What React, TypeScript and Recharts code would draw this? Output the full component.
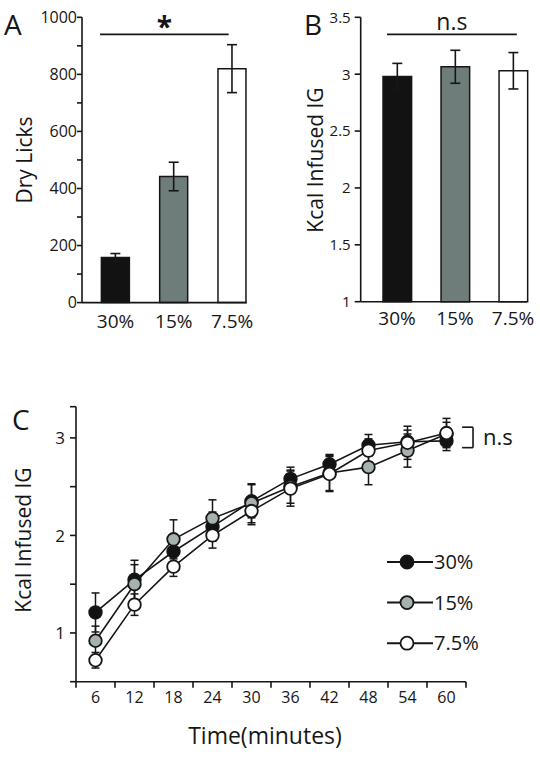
import React from "react";
import {
  BarChart,
  Bar,
  Cell,
  LineChart,
  Line,
  XAxis,
  YAxis,
  ErrorBar,
  ReferenceLine,
  Label,
  Legend,
} from "recharts";

// concentrations (shared by all panels)
const groups = ["30%", "15%", "7.5%"];
const barFills = ["#121212", "#6f7d7a", "#ffffff"];
const dotFills = ["#121212", "#a7b1ae", "#ffffff"];

// panel A: dry licks
const dryLicks = [158, 442, 820];
const dryLicksErr = [14, 50, 84];

// panel B: total kcal infused
const kcalTotal = [2.98, 3.065, 3.03];
const kcalTotalErr = [0.115, 0.145, 0.16];

// panel C: cumulative kcal over time
const minutes = [6, 12, 18, 24, 30, 36, 42, 48, 54, 60];
const kcal30 = [1.21, 1.545, 1.835, 2.09, 2.35, 2.58, 2.73, 2.925, 2.96, 2.97];
const kcal30Err = [0.2, 0.2, 0.15, 0.15, 0.17, 0.12, 0.1, 0.11, 0.12, 0.1];
const kcal15 = [0.92, 1.5, 1.96, 2.175, 2.33, 2.5, 2.64, 2.7, 2.87, 3.04];
const kcal15Err = [0.15, 0.2, 0.2, 0.19, 0.2, 0.17, 0.18, 0.18, 0.17, 0.12];
const kcal75 = [0.72, 1.29, 1.68, 2.0, 2.25, 2.48, 2.63, 2.87, 2.95, 3.05];
const kcal75Err = [0.08, 0.11, 0.1, 0.13, 0.14, 0.18, 0.18, 0.12, 0.17, 0.15];

const lickTicks = [0, 100, 200, 300, 400, 500, 600, 700, 800, 900, 1000];
const kcalBarTicks = [1, 1.5, 2, 2.5, 3, 3.5];
const kcalLineTicks = [0.5, 1, 1.5, 2, 2.5, 3, 3.32];
const timeTicks = [3, 6, 9, 12, 15, 18, 21, 24, 27, 30, 33, 36, 39, 42, 45, 48, 51, 54, 57, 60, 63];

const INK = "#161616";
const FONT = "'Open Sans', sans-serif";

const licksData = groups.map((g, i) => ({ idx: i, name: g, value: dryLicks[i], err: dryLicksErr[i] }));
const kcalData = groups.map((g, i) => ({ idx: i, name: g, value: kcalTotal[i], err: kcalTotalErr[i] }));
const timeData = minutes.map((t, i) => ({
  t,
  k30: kcal30[i],
  e30: kcal30Err[i],
  k15: kcal15[i],
  e15: kcal15Err[i],
  k75: kcal75[i],
  e75: kcal75Err[i],
}));
const lineKeys = [
  { key: "k30", err: "e30" },
  { key: "k15", err: "e15" },
  { key: "k75", err: "e75" },
];

const axisProps = { stroke: INK, strokeWidth: 1.6 };

const groupTick = (dy: number) => (p: any) => (
  <text x={p.x} y={p.y} dy={dy} textAnchor="middle" fontSize={19} fill={INK} fontFamily={FONT}>
    {groups[p.payload.value]}
  </text>
);

const valueTick = (size: number, show: (v: number) => boolean) => (p: any) => {
  const v = p.payload.value;
  if (!show(v)) return <g />;
  return (
    <text x={p.x} y={p.y} dy="0.36em" textAnchor="end" fontSize={size} fill={INK} fontFamily={FONT}>
      {v}
    </text>
  );
};

const timeTick = (p: any) => {
  const v = p.payload.value;
  if (v % 6 !== 0) return <line x1={p.x} x2={p.x} y1={p.y} y2={p.y + 6} stroke={INK} strokeWidth={1.6} />;
  return (
    <text x={p.x} y={p.y} dy={21.5} textAnchor="middle" fontSize={16} fill={INK} fontFamily={FONT}>
      {v}
    </text>
  );
};

const vTitle = (text: string, x: number, y: number) => () => (
  <text
    transform={`translate(${x},${y}) rotate(-90)`}
    textAnchor="middle"
    fontSize={21}
    fill={INK}
    fontFamily={FONT}
  >
    {text}
  </text>
);

const panelLetter = (letter: string, left: number, top: number) => (
  <div
    style={{
      position: "absolute",
      left,
      top,
      fontFamily: FONT,
      fontSize: 28,
      lineHeight: "28px",
      color: INK,
    }}
  >
    {letter}
  </div>
);

const renderLegend = () => (
  <svg width={140} height={110} style={{ overflow: "visible" }}>
    {groups.map((g, i) => {
      const y = 12 + i * 40.6;
      return (
        <g key={g}>
          <line x1={4} x2={50} y1={y} y2={y} stroke={INK} strokeWidth={2} />
          <circle cx={24} cy={y} r={6.5} fill={dotFills[i]} stroke={INK} strokeWidth={1.8} />
          <text x={51} y={y} dy="0.36em" fontSize={20} fill={INK} fontFamily={FONT}>
            {g}
          </text>
        </g>
      );
    })}
  </svg>
);

export default function App() {
  return (
    <div style={{ position: "absolute", left: 0, top: 0, width: 540, height: 759, background: "#fff" }}>
      {panelLetter("A", 4, 10)}
      {panelLetter("B", 304, 10)}
      {panelLetter("C", 12, 405)}

      <div style={{ position: "absolute", left: 0, top: 0 }}>
        <BarChart width={270} height={340} data={licksData} margin={{ top: 17.3, right: 23.3, left: 0, bottom: 0 }}>
          <XAxis
            type="number"
            dataKey="idx"
            domain={[-0.575, 2.25]}
            ticks={[0, 1, 2]}
            interval={0}
            tickLine={false}
            tickSize={0}
            tickMargin={0}
            tick={groupTick(25)}
            height={37.4}
            axisLine={axisProps}
          />
          <YAxis
            domain={[0, 1000]}
            ticks={lickTicks}
            interval={0}
            width={82}
            tickSize={5}
            tickMargin={0}
            axisLine={axisProps}
            tickLine={axisProps}
            tick={valueTick(16, (v) => v % 200 === 0)}
          >
            <Label content={vTitle("Dry Licks", 32, 160)} />
          </YAxis>
          <ReferenceLine
            segment={[
              { x: -0.265, y: 940 },
              { x: 1.94, y: 940 },
            ]}
            stroke={INK}
            strokeWidth={1.6}
            ifOverflow="visible"
          >
            <Label value="*" position="top" offset={-3} fontSize={28} fontWeight="bold" fill={INK} fontFamily={FONT} />
          </ReferenceLine>
          <Bar dataKey="value" barSize={28} stroke={INK} strokeWidth={1.5} isAnimationActive={false}>
            {licksData.map((d, i) => (
              <Cell key={d.name} fill={barFills[i]} />
            ))}
            <ErrorBar dataKey="err" direction="y" width={5} stroke={INK} strokeWidth={1.6} isAnimationActive={false} />
          </Bar>
        </BarChart>
      </div>

      <div style={{ position: "absolute", left: 270, top: 0 }}>
        <BarChart width={270} height={340} data={kcalData} margin={{ top: 17.3, right: 13, left: 0, bottom: 0 }}>
          <XAxis
            type="number"
            dataKey="idx"
            domain={[-0.626, 2.24]}
            ticks={[0, 1, 2]}
            interval={0}
            tickLine={false}
            tickSize={0}
            tickMargin={0}
            tick={groupTick(23.6)}
            height={38.3}
            axisLine={axisProps}
          />
          <YAxis
            domain={[1, 3.5]}
            ticks={kcalBarTicks}
            interval={0}
            width={90.7}
            tickSize={6}
            tickMargin={4}
            axisLine={axisProps}
            tickLine={axisProps}
            tick={valueTick(15, () => true)}
          >
            <Label content={vTitle("Kcal Infused IG", 53, 160)} />
          </YAxis>
          <ReferenceLine
            segment={[
              { x: -0.173, y: 3.35 },
              { x: 2.064, y: 3.35 },
            ]}
            stroke={INK}
            strokeWidth={1.6}
            ifOverflow="visible"
          >
            <Label value="n.s" position="top" offset={4.3} fontSize={23} fill={INK} fontFamily={FONT} />
          </ReferenceLine>
          <Bar dataKey="value" barSize={28.6} stroke={INK} strokeWidth={1.5} isAnimationActive={false}>
            {kcalData.map((d, i) => (
              <Cell key={d.name} fill={barFills[i]} />
            ))}
            <ErrorBar dataKey="err" direction="y" width={5} stroke={INK} strokeWidth={1.6} isAnimationActive={false} />
          </Bar>
        </BarChart>
      </div>

      <div style={{ position: "absolute", left: 0, top: 360 }}>
        <LineChart width={540} height={400} data={timeData} margin={{ top: 46.7, right: 74, left: 0, bottom: 0 }}>
          <XAxis
            type="number"
            dataKey="t"
            domain={[3, 63]}
            ticks={timeTicks}
            interval={0}
            tickLine={false}
            tickSize={0}
            tickMargin={0}
            tick={timeTick}
            height={78.3}
            axisLine={axisProps}
          >
            <Label
              content={() => (
                <text x={265} y={384} textAnchor="middle" fontSize={23} fill={INK} fontFamily={FONT}>
                  Time(minutes)
                </text>
              )}
            />
          </XAxis>
          <YAxis
            domain={[0.5, 3.32]}
            ticks={kcalLineTicks}
            interval={0}
            width={76}
            tickSize={6}
            tickMargin={5}
            axisLine={axisProps}
            tickLine={axisProps}
            tick={valueTick(17, (v) => Number.isInteger(v))}
          >
            <Label content={vTitle("Kcal Infused IG", 31, 180)} />
          </YAxis>
          <ReferenceLine
            segment={[
              { x: 62.4, y: 3.11 },
              { x: 64.08, y: 3.11 },
            ]}
            stroke={INK}
            strokeWidth={1.6}
            ifOverflow="visible"
          />
          <ReferenceLine
            segment={[
              { x: 62.4, y: 2.9 },
              { x: 64.08, y: 2.9 },
            ]}
            stroke={INK}
            strokeWidth={1.6}
            ifOverflow="visible"
          />
          <ReferenceLine
            segment={[
              { x: 64.08, y: 3.11 },
              { x: 64.08, y: 2.9 },
            ]}
            stroke={INK}
            strokeWidth={1.6}
            ifOverflow="visible"
          >
            <Label value="n.s" position="right" offset={10} fontSize={22} fill={INK} fontFamily={FONT} />
          </ReferenceLine>
          {lineKeys.map((s, i) => (
            <Line
              key={s.key}
              type="linear"
              dataKey={s.key}
              stroke={INK}
              strokeWidth={1.6}
              dot={{ r: 6.3, fill: dotFills[i], stroke: INK, strokeWidth: 1.8 }}
              isAnimationActive={false}
            >
              <ErrorBar dataKey={s.err} direction="y" width={4} stroke={INK} strokeWidth={1.5} isAnimationActive={false} />
            </Line>
          ))}
          <Legend
            layout="vertical"
            align="center"
            verticalAlign="middle"
            content={renderLegend}
            wrapperStyle={{ left: 383, top: 190, width: 140, height: 110 }}
          />
        </LineChart>
      </div>
    </div>
  );
}
